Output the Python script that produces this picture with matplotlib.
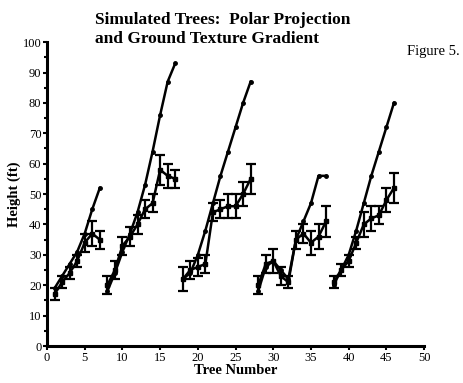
import numpy as np
import matplotlib.pyplot as plt

plt.rcParams['font.family'] = ['Liberation Serif', 'DejaVu Serif']

# tree numbers for each of the five groups
trees = [
    [1, 2, 3, 4, 5, 6, 7],
    [8, 9, 10, 11, 12, 13, 14, 15, 16, 17],
    [18, 19, 20, 21, 22, 23, 24, 25, 26, 27],
    [28, 29, 30, 31, 32, 33, 34, 35, 36, 37],
    [38, 39, 40, 41, 42, 43, 44, 45, 46],
]

# simulated (true) heights
actual = [
    [19, 23, 27, 31, 37, 45, 52],
    [18, 24, 31, 37, 44, 53, 64, 76, 87, 93],
    [22, 24, 30, 38, 47, 56, 64, 72, 80, 87],
    [18, 26, 28, 25, 22, 35, 41, 47, 56, 56],
    [20, 25, 30, 38, 47, 56, 64, 72, 80],
]

# estimated heights and their errors
estimate = [
    [17, 21, 24, 28, 34, 37, 35],
    [20, 25, 33, 36, 40, 45, 47, 58, 56, 55],
    [22, 25, 26, 27, 44, 45, 46, 46, 50, 55],
    [20, 27, 28, 23, 21, 35, 37, 34, 36, 41],
    [21, 25, 28, 34, 40, 42, 43, 48, 52],
]
errors = [
    [2, 2, 2, 2, 3, 4, 3],
    [3, 3, 3, 3, 3, 3, 3, 5, 4, 3],
    [4, 3, 3, 3, 3, 3, 4, 4, 4, 5],
    [3, 3, 4, 3, 2, 3, 3, 4, 4, 5],
    [2, 2, 2, 2, 4, 4, 3, 4, 5],
]

fig = plt.figure(figsize=(4.63, 3.83), dpi=100)
ax = fig.add_axes([0.1015, 0.0966, 0.8145, 0.7934])

for i in range(len(trees)):
    ax.plot(trees[i], actual[i], color='black', lw=1.8, marker='o', ms=2.5)
    ax.errorbar(trees[i], estimate[i], yerr=errors[i], color='black', lw=1.8,
                marker='s', ms=3.5, capsize=3.5, elinewidth=1.6, capthick=1.6)

ax.set_xlim(0, 50)
ax.set_ylim(0, 100)
ax.set_xticks(np.arange(0, 51, 5))
ax.set_yticks(np.arange(0, 101, 10))
ax.set_yticks(np.arange(0, 101, 5), minor=True)
ax.spines['top'].set_visible(False)
ax.spines['right'].set_visible(False)
ax.spines['left'].set_linewidth(2.2)
ax.spines['bottom'].set_linewidth(2.2)
ax.tick_params(axis='both', which='major', labelsize=9, length=3, width=1.5, pad=1)
ax.tick_params(axis='y', which='minor', length=2, width=1.5)

ax.set_xlabel('Tree Number', fontsize=10.5, fontweight='bold', labelpad=0)
ax.set_ylabel('Height (ft)', fontsize=10.5, fontweight='bold', labelpad=1)

fig.text(0.205, 0.968, 'Simulated Trees:  Polar Projection\nand Ground Texture Gradient',
         fontsize=12.5, fontweight='bold', va='top', ha='left', linespacing=1.2)
fig.text(0.878, 0.865, 'Figure 5.', fontsize=10.5, ha='left', va='center')

fig.savefig('out.png', dpi=100)
